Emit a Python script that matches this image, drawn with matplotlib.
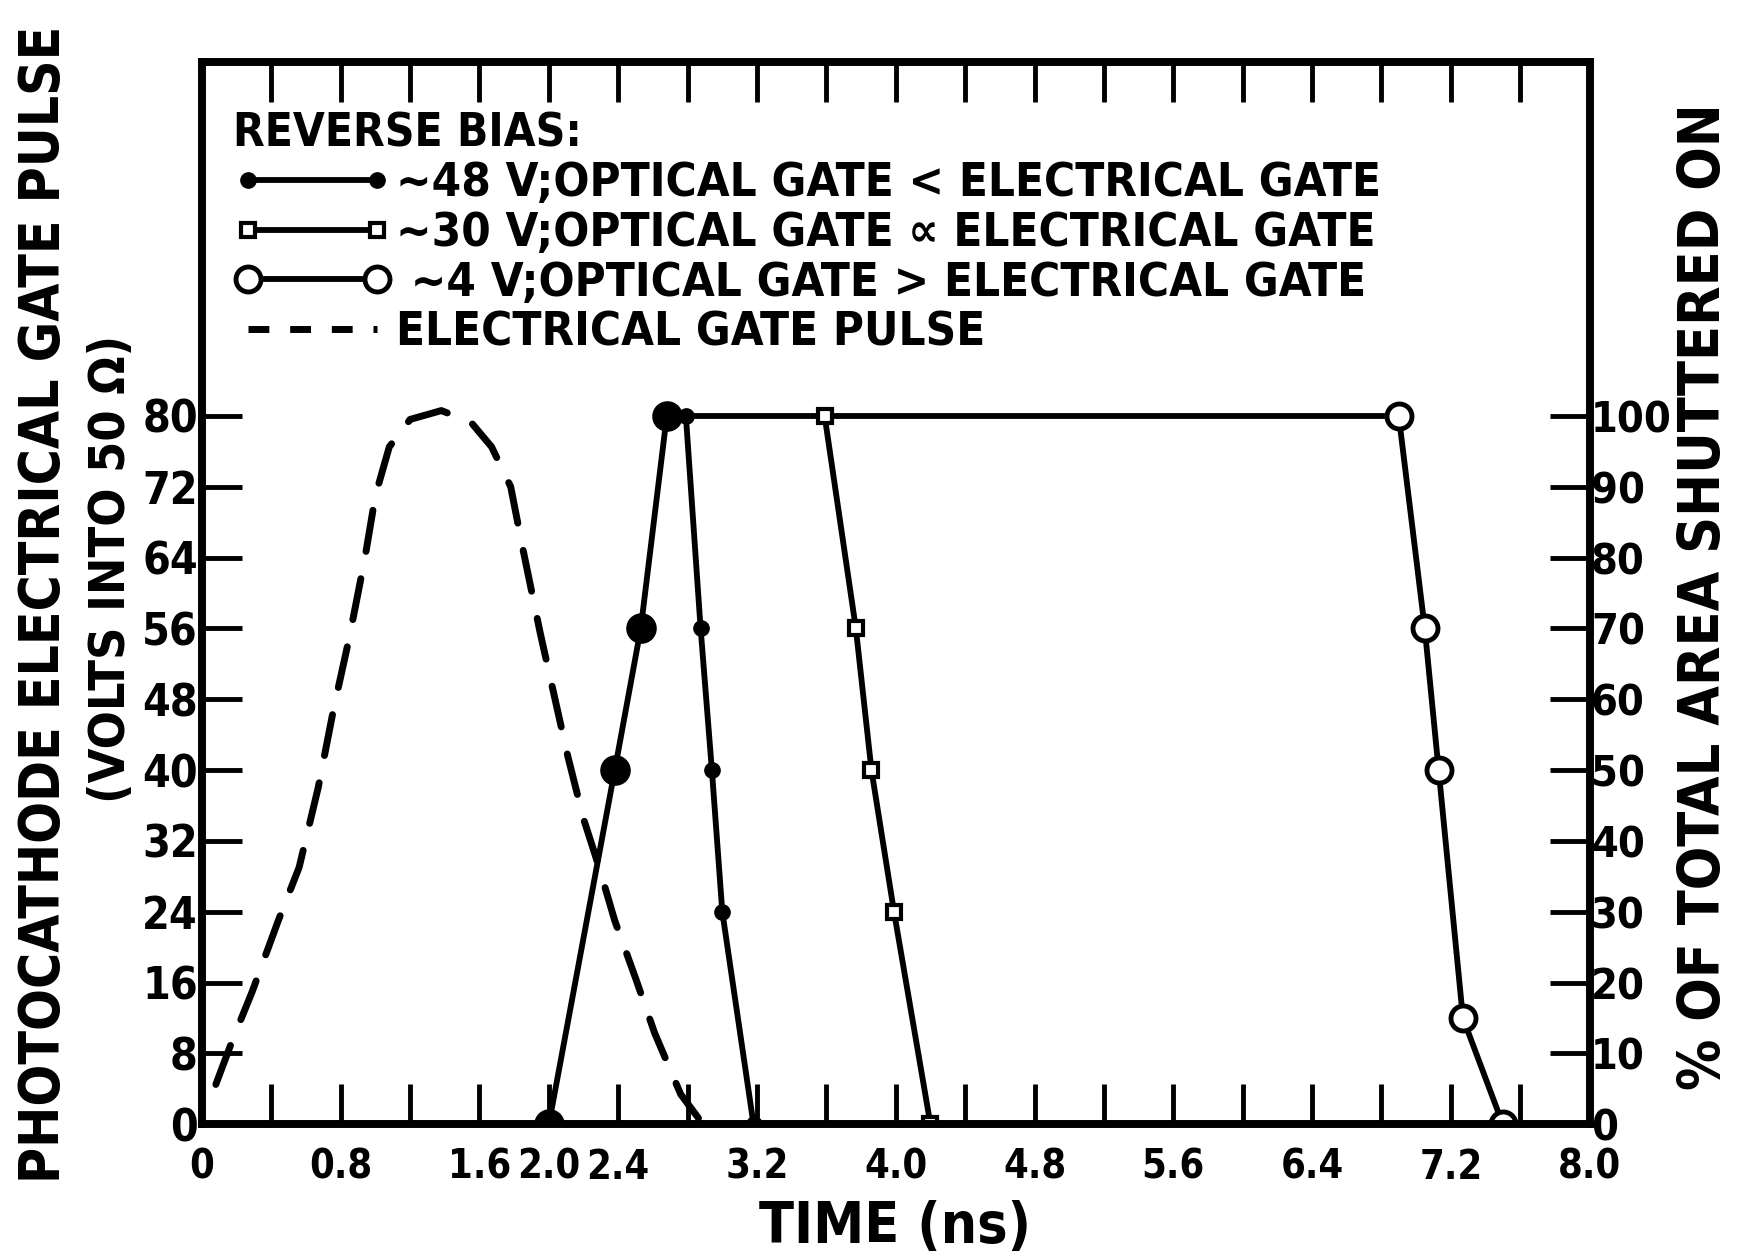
import matplotlib
matplotlib.use("Agg")
import matplotlib.pyplot as plt
from matplotlib.lines import Line2D
import numpy as np

plt.rcParams['font.family'] = ['DejaVu Sans']
plt.rcParams['font.weight'] = 'bold'
plt.rcParams['font.stretch'] = 'condensed'

# ~48 V reverse bias (filled circles)
filled_t = [2.0, 2.38, 2.53, 2.68, 2.79, 2.875, 2.94, 3.0, 3.18]
filled_v = [0, 40, 56, 80, 80, 56, 40, 24, 0]
# ~30 V reverse bias (small squares)
square_t = [3.59, 3.77, 3.86, 3.99, 4.2]
square_v = [80, 56, 40, 24, 0]
# ~4 V reverse bias (open circles)
circle_t = [6.9, 7.05, 7.13, 7.27, 7.5]
circle_v = [80, 56, 40, 12, 0]
# electrical gate pulse (dashed)
gate_t = [0.08, 0.17, 0.29, 0.44, 0.56, 0.67, 0.76, 0.85, 0.94, 1.00, 1.08,
          1.20, 1.38, 1.55, 1.67, 1.78, 1.85, 1.95, 2.03, 2.11, 2.20, 2.29,
          2.38, 2.50, 2.61, 2.76, 2.87]
gate_v = [4.5, 9.2, 15, 23, 29, 38, 47, 55, 64, 71, 76.5, 79.6, 80.6, 79.3,
          76.5, 72, 65, 55.5, 48.5, 41.5, 34.5, 29, 23, 16.5, 10.3, 3.4, 0.5]

x_ticks = np.arange(0, 8.01, 0.4)
x_labeled = ['0', '0.8', '1.6', '2.0', '2.4', '3.2', '4.0', '4.8', '5.6', '6.4', '7.2', '8.0']
left_ticks = list(range(0, 81, 8))
right_ticks = list(range(0, 101, 10))

LW = 4.2
fig = plt.figure(figsize=(17.41, 12.59), dpi=100)
ax = fig.add_axes([0.116, 0.107, 0.797, 0.844])

ax.plot(gate_t, gate_v, color='black', lw=5, linestyle=(0, (6, 4)),
        dash_capstyle='round', label='ELECTRICAL GATE PULSE')
ax.plot([filled_t[4], circle_t[0]], [filled_v[4], circle_v[0]], color='black', lw=LW)
l48, = ax.plot(filled_t, filled_v, color='black', lw=LW, marker='o', ms=11,
               label='~48 V;OPTICAL GATE < ELECTRICAL GATE')
ax.plot(filled_t[:4], filled_v[:4], ls='none', marker='o', ms=21, color='black')
l30, = ax.plot(square_t, square_v, color='black', lw=LW, marker='s', ms=10,
               mfc='white', mec='black', mew=3,
               label='~30 V;OPTICAL GATE \u221d ELECTRICAL GATE')
l4, = ax.plot(circle_t, circle_v, color='black', lw=LW, marker='o', ms=18,
              mfc='white', mec='black', mew=3.5,
              label=' ~4 V;OPTICAL GATE > ELECTRICAL GATE')
lgate = Line2D([], [], color='black', lw=5, linestyle=(0, (3, 3)))

ax.set_xlim(0, 8)
ax.set_ylim(0, 120)
labels = []
for t in x_ticks:
    s = '%.1f' % t if t > 0 else '0'
    labels.append(s if s in x_labeled else '')
ax.set_xticks(x_ticks)
ax.set_xticklabels(labels)
ax.set_yticks(left_ticks)
ax.tick_params(axis='x', direction='in', length=29, width=3.5, top=True,
               labelsize=28.5, pad=17)
ax.tick_params(axis='y', direction='in', length=29, width=3.5,
               labelsize=32, pad=3)
for sp in ax.spines.values():
    sp.set_linewidth(5.5)

ax2 = ax.twinx()
ax2.set_ylim(0, 150)
ax2.set_yticks(right_ticks)
ax2.tick_params(axis='y', direction='in', length=29, width=3.5,
                labelsize=31, pad=1)
for sp in ax2.spines.values():
    sp.set_linewidth(5.5)

leg = ax.legend([l48, l30, l4, lgate],
                [l48.get_label(), l30.get_label(), l4.get_label(), 'ELECTRICAL GATE PULSE'],
                loc='upper left', bbox_to_anchor=(-0.008, 0.993), frameon=False,
                numpoints=2, handlelength=3.35, handletextpad=0.1,
                labelspacing=0.1, fontsize=34, title='REVERSE BIAS:',
                title_fontproperties={'size': 33, 'weight': 'bold',
                                      'stretch': 'condensed'},
                alignment='left', borderaxespad=0.5)

fig.text(0.025, 0.52, 'PHOTOCATHODE ELECTRICAL GATE PULSE', rotation=90,
         ha='center', va='center', fontsize=39.5, fontweight='bold')
fig.text(0.064, 0.548, '(VOLTS INTO 50 \u03a9)', rotation=90,
         ha='center', va='center', fontsize=36, fontweight='bold')
fig.text(0.979, 0.526, '% OF TOTAL AREA SHUTTERED ON', rotation=90,
         ha='center', va='center', fontsize=41, fontweight='bold')
fig.text(0.514, 0.025, 'TIME (ns)', ha='center', va='center',
         fontsize=41, fontweight='bold')

fig.savefig('out.png', dpi=100)
